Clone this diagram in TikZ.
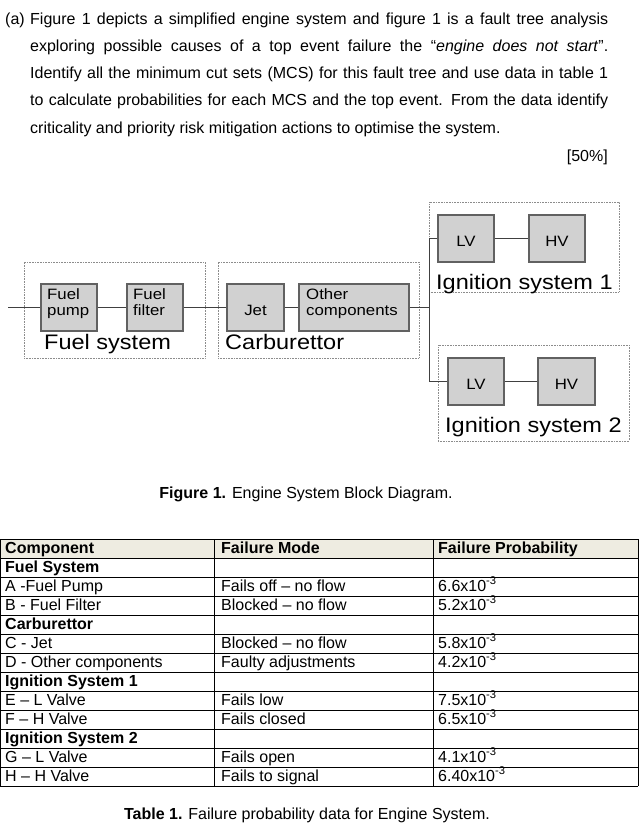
\documentclass[tikz,border=0pt]{standalone}
\usepackage{graphicx}
\usepackage{fontspec}
\setmainfont{Liberation Sans}
\definecolor{hdr}{RGB}{238,236,225}
\tikzset{
  grp/.style={draw=black!45,densely dotted,line width=0.6pt},
  blk/.style={draw=black!62,fill=black!18,line width=1.1pt,inner sep=0pt},
  lnk/.style={draw=black!75,line width=0.8pt},
  blktxt/.style={font=\fontsize{15}{16}\selectfont,align=left,inner sep=0pt},
  grptxt/.style={font=\fontsize{21}{23}\selectfont,anchor=base west,inner sep=0pt},
  bodyline/.style={font=\fontsize{16}{18}\selectfont,anchor=base west,inner sep=0pt},
  cell/.style={font=\fontsize{16}{18}\selectfont,anchor=base west,inner sep=0pt},
  rule/.style={draw=black,line width=0.7pt},
}
\newcommand{\xp}[1]{#1x10\textsuperscript{-3}}
\newcommand{\jl}[1]{\makebox[578pt][s]{#1}}
\newcommand{\wb}[1]{\scalebox{1.12}[1]{\begin{tabular}{@{}l@{}}#1\end{tabular}}}
\newcommand{\wg}[1]{\scalebox{1.12}[1]{#1}}
\begin{document}
\begin{tikzpicture}[x=1pt,y=-1pt]
\useasboundingbox (0,0) rectangle (642,827);
% question text
\node[bodyline] (la) at (5,24) {(a)};
\node[bodyline] (l1) at (30,24) {\jl{Figure 1 depicts a simplified engine system and figure 1 is a fault tree analysis}};
\node[bodyline] (l2) at (30,51.5) {\jl{exploring possible causes of a top event failure the ``\textit{engine does not start}''.}};
\node[bodyline] (l3) at (30,78.5) {\jl{Identify all the minimum cut sets (MCS) for this fault tree and use data in table 1}};
\node[bodyline] (l4) at (30,105.5) {\jl{to calculate probabilities for each MCS and the top event. From the data identify}};
\node[bodyline] (l5) at (30,133) {criticality and priority risk mitigation actions to optimise the system.};
\node[bodyline,anchor=base east] (mk) at (608,161) {[50\%]};
% group boxes
\node[grp,minimum width=181,minimum height=96] (gfuel) at (114.5,310) {};
\node[grp,minimum width=201,minimum height=96] (gcarb) at (318.5,310) {};
\node[grp,minimum width=190,minimum height=90] (gign1) at (524,247) {};
\node[grp,minimum width=191,minimum height=96] (gign2) at (533.5,393) {};
% blocks
\coordinate (in) at (8,307.5);
\node[blk,minimum width=56,minimum height=47] (fp) at (69,307.5) {};
\node[blk,minimum width=56,minimum height=47] (ff) at (155,307.5) {};
\node[blk,minimum width=57,minimum height=47] (jet) at (255.5,307.5) {};
\node[blk,minimum width=110,minimum height=47] (oc) at (354,307.5) {};
\node[blk,minimum width=56,minimum height=47] (lv1) at (466,238.5) {};
\node[blk,minimum width=56,minimum height=47] (hv1) at (557,238.5) {};
\node[blk,minimum width=56,minimum height=47] (lv2) at (476,381.5) {};
\node[blk,minimum width=57,minimum height=47] (hv2) at (566.5,381.5) {};
\node[blktxt,anchor=west] (fpt) at (47,304) {\wb{Fuel\\pump}};
\node[blktxt,anchor=west] (fft) at (133,304) {\wb{Fuel\\filter}};
\node[blktxt] (jt) at (255.5,310) {\wg{Jet}};
\node[blktxt,anchor=west] (ot) at (306,304) {\wb{Other\\components}};
\node[blktxt] (lv1t) at (466,241) {\wg{LV}};
\node[blktxt] (hv1t) at (557,241) {\wg{HV}};
\node[blktxt] (lv2t) at (476,384) {\wg{LV}};
\node[blktxt] (hv2t) at (566.5,384) {\wg{HV}};
% connectors
\coordinate (jn) at (429,307.5);
\coordinate (t) at (429,238.5);
\coordinate (b) at (429,381.5);
\draw[lnk] (in)--(fp) (fp)--(ff) (ff)--(jet) (jet)--(oc) (oc)--(jn);
\draw[lnk] (lv1)--(t)--(b)--(lv2);
\draw[lnk] (lv1)--(hv1) (lv2)--(hv2);
% group labels
\node[grptxt] (g1) at (44,349) {\wg{Fuel system}};
\node[grptxt] (g2) at (225,349) {\wg{Carburettor}};
\node[grptxt] (g3) at (436,289) {\wg{Ignition system 1}};
\node[grptxt] (g4) at (445,432) {\wg{Ignition system 2}};
% caption
\node[bodyline,anchor=base] (cap1) at (306,498) {\textbf{Figure 1.} Engine System Block Diagram.};
% table
\fill[hdr] (0,539) rectangle (638,558);
\foreach \r in {0,...,13} \draw[rule] (0,539+19*\r) -- (638,539+19*\r);
\foreach \c in {0,214,433,638} \draw[rule] (\c,539) -- (\c,786);
\foreach \r/\a/\b/\d in {
 0/\textbf{Component}/\textbf{Failure Mode}/\textbf{Failure Probability},
 1/\textbf{Fuel System}//,
 2/A -Fuel Pump/Fails off – no flow/\xp{6.6},
 3/B - Fuel Filter/Blocked – no flow/\xp{5.2},
 4/\textbf{Carburettor}//,
 5/C - Jet/Blocked – no flow/\xp{5.8},
 6/D - Other components/Faulty adjustments/\xp{4.2},
 7/\textbf{Ignition System 1}//,
 8/E – L Valve/Fails low/\xp{7.5},
 9/F – H Valve/Fails closed/\xp{6.5},
 10/\textbf{Ignition System 2}//,
 11/G – L Valve/Fails open/\xp{4.1},
 12/H – H Valve/Fails to signal/\xp{6.40}}
{
 \node[cell] (ca\r) at (5,553+19*\r) {\a};
 \node[cell] (cb\r) at (221,553+19*\r) {\b};
 \node[cell] (cc\r) at (438,553+19*\r) {\d};
}
\node[bodyline,anchor=base] (cap2) at (307,819) {\textbf{Table 1.} Failure probability data for Engine System.};
\end{tikzpicture}
\end{document}
